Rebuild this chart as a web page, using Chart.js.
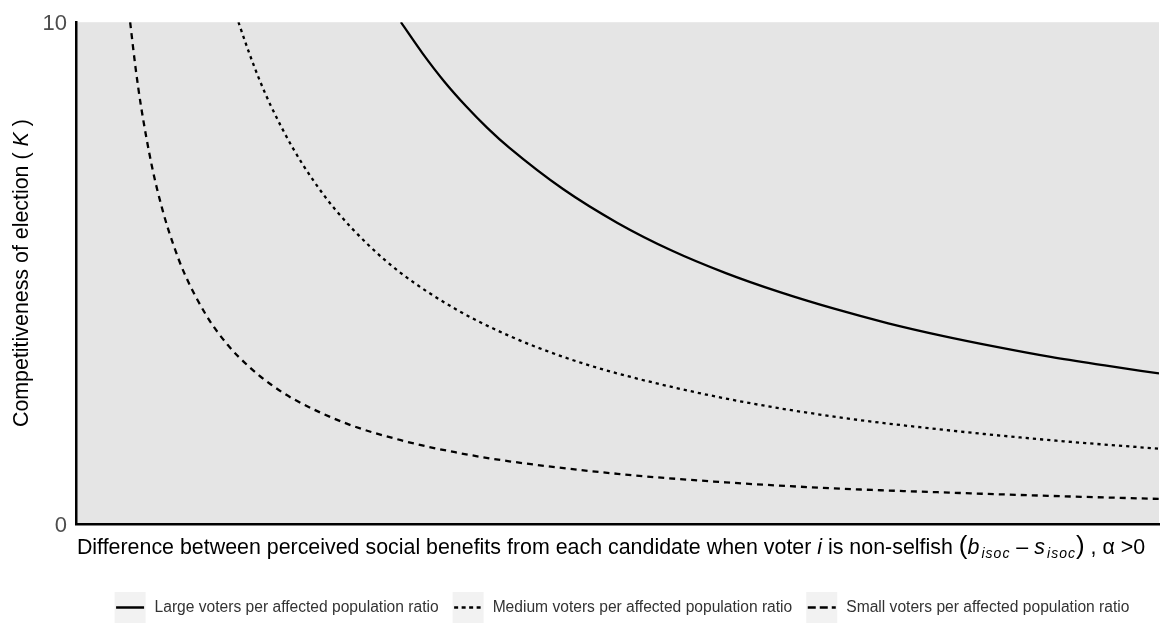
<!DOCTYPE html>
<html>
<head>
<meta charset="utf-8">
<script src="https://cdn.jsdelivr.net/npm/chart.js@4/dist/chart.umd.min.js"></script>
<style>
  html, body { margin: 0; padding: 0; background: #ffffff; }
  #wrap { width: 1161px; height: 624px; position: relative; }
</style>
</head>
<body>
<div id="wrap"><canvas id="chart" width="1161" height="624"></canvas></div>
<script>
// Competitiveness K against the perceived social-benefit difference, one curve per ratio
const largeX  = [0.30, 0.32, 0.34, 0.36, 0.38, 0.40, 0.45, 0.50, 0.55, 0.60, 0.65, 0.70, 0.75, 0.80, 0.85, 0.90, 0.95, 1.00];
const largeK  = [10.0, 9.38, 8.82, 8.33, 7.89, 7.50, 6.67, 6.00, 5.45, 5.00, 4.62, 4.29, 4.00, 3.75, 3.53, 3.33, 3.16, 3.00];

const mediumX = [0.15, 0.16, 0.17, 0.18, 0.20, 0.22, 0.24, 0.27, 0.30, 0.35, 0.40, 0.45, 0.50, 0.60, 0.70, 0.80, 0.90, 1.00];
const mediumK = [10.0, 9.38, 8.82, 8.33, 7.50, 6.82, 6.25, 5.56, 5.00, 4.29, 3.75, 3.33, 3.00, 2.50, 2.14, 1.88, 1.67, 1.50];

const smallX  = [0.050, 0.055, 0.060, 0.070, 0.080, 0.090, 0.10, 0.12, 0.14, 0.16, 0.18, 0.20, 0.25, 0.30, 0.35, 0.40, 0.50, 0.60, 0.70, 0.80, 0.90, 1.00];
const smallK  = [10.0, 9.09, 8.33, 7.14, 6.25, 5.56, 5.00, 4.17, 3.57, 3.13, 2.78, 2.50, 2.00, 1.67, 1.43, 1.25, 1.00, 0.83, 0.71, 0.63, 0.56, 0.50];

const yTickValues = [0, 10];
const seriesNames = [
  'Large voters per affected population ratio',
  'Medium voters per affected population ratio',
  'Small voters per affected population ratio'
];

const FONT = '"Liberation Sans", Arial, Helvetica, sans-serif';
const INK = '#000000';

function toPoints(xs, ys) { return xs.map((x, i) => ({ x: x, y: ys[i] })); }

// line patterns: plot curves and the matching legend keys
const styles = [
  { dash: [],       key: [] },
  { dash: [3.2, 4], key: [4, 3.5] },
  { dash: [6, 5],   key: [8, 4] }
];

function setRunFont(ctx, r) {
  ctx.font = (r.italic ? 'italic ' : '') + r.size + 'px ' + FONT;
  ctx.letterSpacing = (r.spacing || 0) + 'px';
}
function runsWidth(ctx, runs) {
  let w = 0;
  for (const r of runs) {
    setRunFont(ctx, r);
    w += ctx.measureText(r.t).width;
  }
  ctx.letterSpacing = '0px';
  return w;
}
function drawRuns(ctx, runs, x, y) {
  let cx = x;
  for (const r of runs) {
    setRunFont(ctx, r);
    ctx.fillText(r.t, cx, y + (r.dy || 0));
    cx += ctx.measureText(r.t).width;
  }
  ctx.letterSpacing = '0px';
}

const xTitleRuns = [
  { t: 'Difference between perceived social benefits from each candidate when voter ', size: 21.4 },
  { t: 'i', size: 21.4, italic: true },
  { t: ' is non-selfish ', size: 21.4 },
  { t: '(', size: 26 },
  { t: 'b', size: 21.4, italic: true },
  { t: '\u200Aisoc', size: 14, italic: true, dy: 4, spacing: 1 },
  { t: ' \u2013 ', size: 21.4 },
  { t: 's', size: 21.4, italic: true },
  { t: '\u200Aisoc', size: 14, italic: true, dy: 4, spacing: 1 },
  { t: ')', size: 26 },
  { t: ' , \u03b1 >0', size: 21.4 }
];
const yTitleRuns = [
  { t: 'Competitiveness of election ', size: 21.4 },
  { t: '( ', size: 21.4 },
  { t: 'K', size: 21.4, italic: true },
  { t: ' )', size: 21.4 }
];

const decor = {
  id: 'decor',
  beforeDraw(chart) {
    const { ctx, chartArea: a } = chart;
    ctx.save();
    ctx.fillStyle = '#e5e5e5';
    ctx.fillRect(a.left, a.top, a.right - a.left, a.bottom - a.top);
    ctx.restore();
  },
  afterDraw(chart) {
    const { ctx, chartArea: a } = chart;
    ctx.save();
    ctx.fillStyle = INK;
    ctx.textBaseline = 'alphabetic';

    // x-axis title
    const xw = runsWidth(ctx, xTitleRuns);
    drawRuns(ctx, xTitleRuns, 611 - xw / 2, 554);

    // y-axis title, rotated
    const yw = runsWidth(ctx, yTitleRuns);
    ctx.save();
    ctx.translate(28, (a.top + a.bottom) / 2);
    ctx.rotate(-Math.PI / 2);
    drawRuns(ctx, yTitleRuns, -yw / 2, 0);
    ctx.restore();

    // legend
    const fs = 15.6;
    ctx.font = fs + 'px ' + FONT;
    const box = 31, gapText = 9, gapItem = 14;
    const widths = seriesNames.map(n => ctx.measureText(n).width);
    let total = 0;
    widths.forEach((w, i) => { total += box + gapText + w + (i < widths.length - 1 ? gapItem : 0); });
    let x = 622 - total / 2;
    const top = 592, mid = top + box / 2;
    chart.data.datasets.forEach((ds, i) => {
      ctx.fillStyle = '#f2f2f2';
      ctx.fillRect(x, top, box, box);
      ctx.strokeStyle = INK;
      ctx.lineWidth = 2.5;
      ctx.lineCap = 'butt';
      ctx.setLineDash(styles[i].key);
      ctx.beginPath();
      ctx.moveTo(x + 1.5, mid);
      ctx.lineTo(x + box - 1.5, mid);
      ctx.stroke();
      ctx.setLineDash([]);
      ctx.fillStyle = '#333333';
      ctx.font = fs + 'px ' + FONT;
      ctx.textBaseline = 'middle';
      ctx.fillText(ds.label, x + box + gapText, mid);
      x += box + gapText + widths[i] + gapItem;
    });
    ctx.restore();
  }
};

const datasets = [
  { label: seriesNames[0], data: toPoints(largeX, largeK) },
  { label: seriesNames[1], data: toPoints(mediumX, mediumK) },
  { label: seriesNames[2], data: toPoints(smallX, smallK) }
].map((d, i) => Object.assign(d, {
  borderColor: INK,
  borderWidth: 2.3,
  borderDash: styles[i].dash,
  pointRadius: 0,
  fill: false,
  cubicInterpolationMode: 'monotone'
}));

new Chart(document.getElementById('chart'), {
  type: 'line',
  data: { datasets: datasets },
  options: {
    responsive: false,
    animation: false,
    devicePixelRatio: 1,
    layout: { padding: { left: 0, top: 17, right: 2, bottom: 0 } },
    plugins: { legend: { display: false }, tooltip: { enabled: false } },
    scales: {
      x: {
        type: 'linear', min: 0, max: 1,
        grid: { display: false, drawTicks: false },
        border: { display: true, color: INK, width: 2.5 },
        ticks: { display: false },
        afterFit(s) { s.height = 100; }
      },
      y: {
        type: 'linear', min: 0, max: 10,
        grid: { display: false, drawTicks: false },
        border: { display: true, color: INK, width: 2.5 },
        afterBuildTicks(s) { s.ticks = yTickValues.map(v => ({ value: v })); },
        ticks: { color: '#4d4d4d', padding: 9, labelOffset: 2, font: { family: FONT, size: 22 } },
        afterFit(s) { s.width = 76; }
      }
    }
  },
  plugins: [decor]
});
</script>
</body>
</html>
